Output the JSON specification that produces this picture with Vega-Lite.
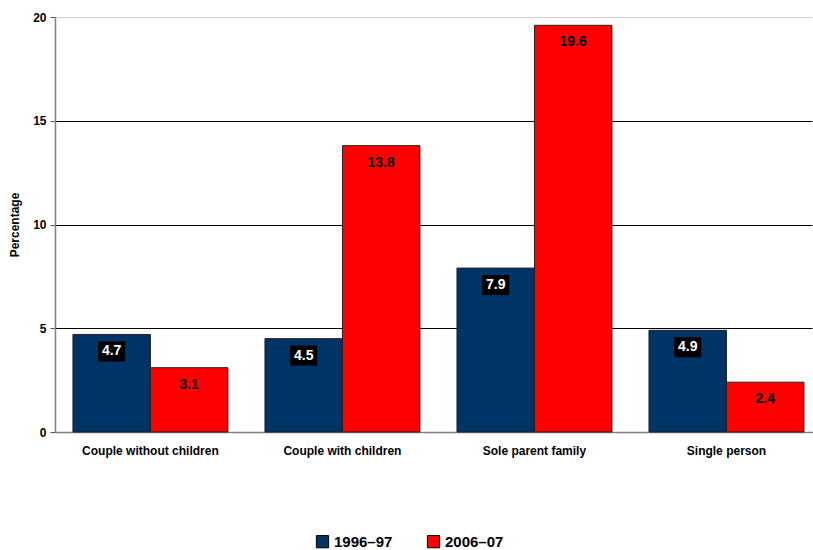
{
  "$schema": "https://vega.github.io/schema/vega-lite/v6.json",
  "width": 757,
  "height": 415,
  "autosize": {"type": "none"},
  "padding": {"left": 55, "top": 17, "right": 1, "bottom": 118},
  "background": "white",
  "config": {
    "view": {"stroke": null},
    "font": "Liberation Sans",
    "axis": {"labelFont": "Liberation Sans", "titleFont": "Liberation Sans"}
  },
  "data": {
    "values": [
      {"category": "Couple without children", "period": "1996–97", "value": 4.7},
      {"category": "Couple without children", "period": "2006–07", "value": 3.1},
      {"category": "Couple with children", "period": "1996–97", "value": 4.5},
      {"category": "Couple with children", "period": "2006–07", "value": 13.8},
      {"category": "Sole parent family", "period": "1996–97", "value": 7.9},
      {"category": "Sole parent family", "period": "2006–07", "value": 19.6},
      {"category": "Single person", "period": "1996–97", "value": 4.9},
      {"category": "Single person", "period": "2006–07", "value": 2.4}
    ]
  },
  "encoding": {
    "x": {
      "field": "category",
      "type": "nominal",
      "sort": null,
      "scale": {"paddingInner": 0.193, "paddingOuter": 0.0677, "align": 0.69},
      "axis": {
        "title": null,
        "labelAngle": 0,
        "labelFontWeight": "bold",
        "labelFontSize": 12,
        "labelColor": "#000",
        "labelPadding": 13,
        "ticks": false,
        "domainColor": "#808080",
        "domainWidth": 1.5
      }
    },
    "xOffset": {"field": "period", "type": "nominal", "scale": {"paddingInner": 0, "paddingOuter": 0}},
    "y": {
      "field": "value",
      "type": "quantitative",
      "scale": {"domain": [0, 20]},
      "axis": {
        "title": "Percentage",
        "titleFontWeight": "bold",
        "titleFontSize": 12,
        "titleColor": "#000",
        "titlePadding": 11,
        "values": [0, 5, 10, 15, 20],
        "labelFontWeight": "bold",
        "labelFontSize": 12,
        "labelColor": "#000",
        "tickColor": "#555",
        "tickSize": 5,
        "domainColor": "#808080",
        "domainWidth": 1.5,
        "gridColor": {"condition": {"test": "datum.value === 20", "value": "#d0d0d0"}, "value": "#000"},
        "gridWidth": 1,
        "labelPadding": 4
      }
    }
  },
  "layer": [
    {
      "mark": {"type": "bar", "stroke": "#222", "strokeWidth": 1},
      "encoding": {
        "color": {
          "field": "period",
          "type": "nominal",
          "scale": {"domain": ["1996–97", "2006–07"], "range": ["#003366", "#ff0000"]},
          "legend": {
            "title": null,
            "orient": "none",
            "legendX": 260,
            "legendY": 517,
            "direction": "horizontal",
            "symbolType": "square",
            "symbolSize": 150,
            "symbolStrokeColor": "#000",
            "symbolStrokeWidth": 1,
            "labelFontSize": 15,
            "labelFontWeight": "bold",
            "labelColor": "#000",
            "columnPadding": 32,
            "labelOffset": 4
          }
        }
      }
    },
    {
      "transform": [{"filter": "datum.period === '1996–97'"}],
      "mark": {
        "type": "point",
        "shape": "M-1.35,-1L1.35,-1L1.35,1L-1.35,1Z",
        "size": 400,
        "filled": true,
        "color": "#000",
        "opacity": 1,
        "yOffset": 17
      }
    },
    {
      "mark": {
        "type": "text",
        "fontSize": 14,
        "fontWeight": "bold",
        "baseline": "middle",
        "align": "center",
        "yOffset": 17
      },
      "encoding": {
        "text": {"field": "value", "type": "quantitative", "format": ".1f"},
        "color": {
          "condition": {"test": "datum.period === '1996–97'", "value": "#fff"},
          "value": "#000"
        }
      }
    }
  ]
}
